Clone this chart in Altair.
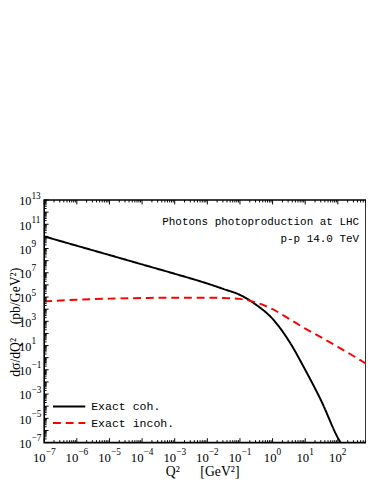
import altair as alt
import pandas as pd

# ---- data ----
q2_coh = [1e-7, 1e-6, 1e-5, 1e-4, 1e-3, 1e-2, 3.2e-2, 1e-1, 3.2e-1, 1.0, 3.2, 10, 32, 100, 150]
coh = [1.0e10, 1.7e9, 2.9e8, 4.9e7, 8.3e6, 1.3e6, 4.5e5, 1.5e5, 2.2e4, 1.6e3, 23, 0.1, 2.3e-4, 2.5e-7, 4e-8]
q2_incoh = [1e-7, 1e-6, 1e-5, 1e-4, 1e-3, 1e-2, 3.2e-2, 1e-1, 3.2e-1, 1.0, 3.2, 10, 32, 100, 320, 740]
incoh = [4.4e4, 6.0e4, 7.4e4, 8.3e4, 8.9e4, 8.9e4, 8.3e4, 7.1e4, 3.5e4, 1.0e4, 1.6e3, 250, 45, 7.9, 1.26, 0.32]
series_names = ["Exact coh.", "Exact incoh."]
series_colors = ["black", "red"]
series_dash = [[1, 0], [8, 5]]

x_label_values = [1e-7, 1e-6, 1e-5, 1e-4, 1e-3, 1e-2, 1e-1, 1, 10, 100]
x_label_exps = ["−7", "−6", "−5", "−4", "−3", "−2", "−1", "0", "1", "2"]
y_label_values = [1e-7, 1e-5, 1e-3, 1e-1, 1e1, 1e3, 1e5, 1e7, 1e9, 1e11, 1e13]
y_label_exps = ["−7", "−5", "−3", "−1", "1", "3", "5", "7", "9", "11", "13"]
annotation = ["Photons photoproduction at LHC", "p-p 14.0 TeV"]
x_title = "Q²\u2003\u2002[GeV²]"
y_title = "dσ/dQ²\u2003(pb/GeV²)"

X_MAX = 10 ** 2.863
W, H = 329, 248
LEFT = 37
SERIF = "Liberation Serif"
MONO = "Liberation Mono"

rows = []
for q, v in zip(q2_coh, coh):
    rows.append({"q2": q, "val": v, "series": series_names[0]})
for q, v in zip(q2_incoh, incoh):
    rows.append({"q2": q, "val": v, "series": series_names[1]})
df = pd.DataFrame(rows)

xscale = alt.Scale(type="log", domain=[1e-7, X_MAX], nice=False)
yscale = alt.Scale(type="log", domain=[1e-7, 1e13], nice=False)

lines = alt.Chart(df).mark_line(strokeWidth=2, clip=True, interpolate="monotone").encode(
    x=alt.X("q2:Q", scale=xscale, axis=None),
    y=alt.Y("val:Q", scale=yscale, axis=None),
    color=alt.Color("series:N", scale=alt.Scale(domain=series_names, range=series_colors), legend=None),
    strokeDash=alt.StrokeDash("series:N", scale=alt.Scale(domain=series_names, range=series_dash), legend=None),
)

# ---- inward tick marks ----
x_major = [10.0 ** e for e in range(-7, 3)]
x_minor = [m * 10.0 ** e for e in range(-7, 3) for m in range(2, 10) if m * 10.0 ** e <= X_MAX]
y_major = [10.0 ** e for e in range(-7, 14)]
y_minor = [m * 10.0 ** e for e in range(-7, 13) for m in range(2, 10)]

def xticks(vals, length):
    d = pd.DataFrame({"t": vals})
    b = alt.Chart(d).mark_rule(color="black", strokeWidth=1).encode(
        x=alt.X("t:Q", scale=xscale, axis=None), y=alt.value(H), y2=alt.value(H - length))
    t = alt.Chart(d).mark_rule(color="black", strokeWidth=1).encode(
        x=alt.X("t:Q", scale=xscale, axis=None), y=alt.value(0), y2=alt.value(length))
    return b + t

def yticks(vals, length):
    d = pd.DataFrame({"t": vals})
    return alt.Chart(d).mark_rule(color="black", strokeWidth=1).encode(
        y=alt.Y("t:Q", scale=yscale, axis=None), x=alt.value(0), x2=alt.value(length))

ticks = xticks(x_major, 4.5) + xticks(x_minor, 2.5) + yticks(y_major, 4.5) + yticks(y_minor, 2.5)

# ---- tick labels: "10" plus a raised exponent ----
xl = pd.DataFrame({"v": x_label_values, "e": x_label_exps})
xl["n"] = xl["e"].str.len()
layers_xl = []
for n, d in [(1, 4.0), (2, 1.5)]:
    sub = xl[xl["n"] == n]
    layers_xl.append(alt.Chart(sub).mark_text(
        align="right", baseline="middle", font=SERIF, fontSize=13, color="black", dx=d).encode(
        x=alt.X("v:Q", scale=xscale, axis=None), y=alt.value(H + 15.5), text=alt.value("10")))
    layers_xl.append(alt.Chart(sub).mark_text(
        align="left", baseline="middle", font=SERIF, fontSize=9.5, color="black", dx=d).encode(
        x=alt.X("v:Q", scale=xscale, axis=None), y=alt.value(H + 10), text="e:N"))

yl = pd.DataFrame({"v": y_label_values, "e": y_label_exps})
y_ten = alt.Chart(yl).mark_text(
    align="right", baseline="middle", font=SERIF, fontSize=12.5, color="black", dy=1.5).encode(
    y=alt.Y("v:Q", scale=yscale, axis=None), x=alt.value(-13), text=alt.value("10"))
y_exp = alt.Chart(yl).mark_text(
    align="left", baseline="middle", font=SERIF, fontSize=9.5, color="black", dy=-4.5).encode(
    y=alt.Y("v:Q", scale=yscale, axis=None), x=alt.value(-13), text="e:N")

# ---- axis titles ----
ytitle = alt.Chart(pd.DataFrame({"s": [y_title]})).mark_text(
    angle=270, align="center", baseline="alphabetic", font=SERIF, fontSize=14, color="black").encode(
    x=alt.value(-LEFT + 12.7), y=alt.value(H / 2 + 1), text="s:N")
xtitle = alt.Chart(pd.DataFrame({"s": [x_title]})).mark_text(
    align="center", baseline="middle", font=SERIF, fontSize=14, color="black").encode(
    x=alt.value(162), y=alt.value(H + 30), text="s:N")

# ---- annotation ----
ann = []
for i, s in enumerate(annotation):
    ann.append(alt.Chart(pd.DataFrame({"s": [s]})).mark_text(
        align="right", baseline="middle", font=MONO, fontSize=11.2, color="black").encode(
        x=alt.value(W - 7), y=alt.value(22.5 + 17 * i), text="s:N"))

# ---- legend (drawn inside the plot, bottom-left) ----
leg = []
for i, (name, col, dash) in enumerate(zip(series_names, series_colors, series_dash)):
    ld = pd.DataFrame({"s": [name]})
    leg.append(alt.Chart(ld).mark_rule(color=col, strokeWidth=2, strokeDash=dash).encode(
        x=alt.value(9), x2=alt.value(42), y=alt.value(211 + 17 * i)))
    leg.append(alt.Chart(ld).mark_text(
        align="left", baseline="middle", font=MONO, fontSize=11.8, color="black").encode(
        x=alt.value(48), y=alt.value(211 + 17 * i), text="s:N"))

chart = alt.layer(lines, ticks, *layers_xl, y_ten, y_exp, ytitle, xtitle, *ann, *leg).properties(
    width=W, height=H,
    padding={"top": 191, "left": LEFT, "right": 0, "bottom": 36},
    autosize=alt.AutoSizeParams(type="none"),
    background="white",
).configure_view(stroke="black", strokeWidth=1.6)

chart.save("out.html", embed_options={"renderer": "svg", "actions": False})
